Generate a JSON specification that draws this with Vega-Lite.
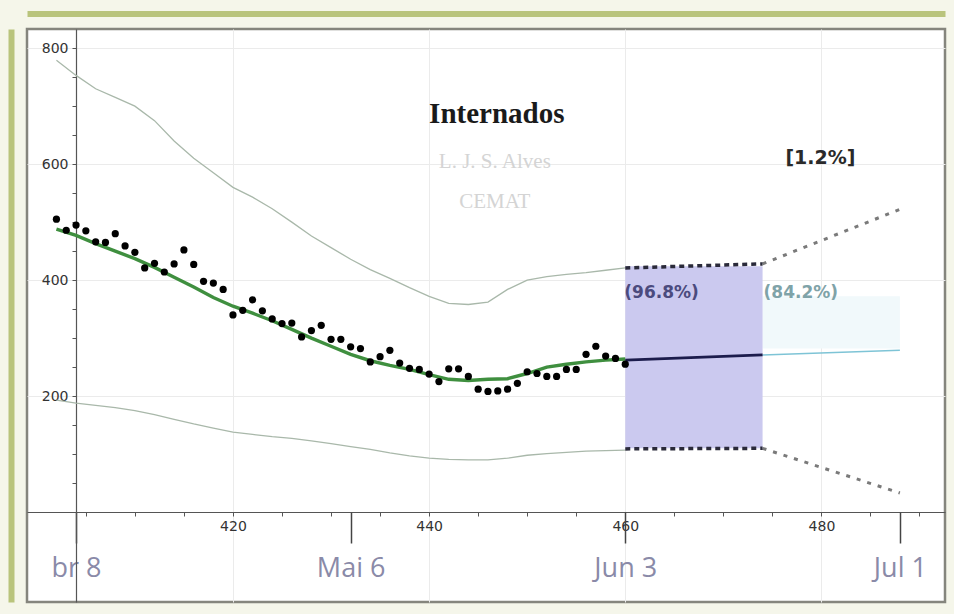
{
  "$schema": "https://vega.github.io/schema/vega-lite/v6.json",
  "width": 918,
  "height": 573,
  "autosize": {"type": "none"},
  "padding": {"left": 27, "top": 29, "right": 9, "bottom": 12},
  "background": "#f5f6ea",
  "config": {
    "view": {"fill": "#ffffff", "stroke": "#85857d", "strokeWidth": 2.5},
    "axis": {"title": null}
  },
  "resolve": {"axis": {"x": "independent", "y": "independent"}},
  "datasets": {
    "rects": [
      {"x1": 474, "x2": 488, "y1": 282, "y2": 372, "kind": "cyan"},
      {"x1": 460, "x2": 474, "y1": 110, "y2": 424, "kind": "ci"}
    ],
    "bands": [
      {"day": 402, "value": 779, "band": "upper"},
      {"day": 404, "value": 753, "band": "upper"},
      {"day": 406, "value": 730, "band": "upper"},
      {"day": 408, "value": 715, "band": "upper"},
      {"day": 410, "value": 700, "band": "upper"},
      {"day": 412, "value": 675, "band": "upper"},
      {"day": 414, "value": 640, "band": "upper"},
      {"day": 416, "value": 610, "band": "upper"},
      {"day": 418, "value": 585, "band": "upper"},
      {"day": 420, "value": 560, "band": "upper"},
      {"day": 422, "value": 543, "band": "upper"},
      {"day": 424, "value": 523, "band": "upper"},
      {"day": 426, "value": 500, "band": "upper"},
      {"day": 428, "value": 476, "band": "upper"},
      {"day": 430, "value": 456, "band": "upper"},
      {"day": 432, "value": 436, "band": "upper"},
      {"day": 434, "value": 418, "band": "upper"},
      {"day": 436, "value": 403, "band": "upper"},
      {"day": 438, "value": 387, "band": "upper"},
      {"day": 440, "value": 372, "band": "upper"},
      {"day": 442, "value": 360, "band": "upper"},
      {"day": 444, "value": 358, "band": "upper"},
      {"day": 446, "value": 362, "band": "upper"},
      {"day": 448, "value": 384, "band": "upper"},
      {"day": 450, "value": 400, "band": "upper"},
      {"day": 452, "value": 406, "band": "upper"},
      {"day": 454, "value": 410, "band": "upper"},
      {"day": 456, "value": 413, "band": "upper"},
      {"day": 458, "value": 417, "band": "upper"},
      {"day": 460, "value": 421, "band": "upper"},
      {"day": 402, "value": 193, "band": "lower"},
      {"day": 404, "value": 188, "band": "lower"},
      {"day": 406, "value": 184, "band": "lower"},
      {"day": 408, "value": 180, "band": "lower"},
      {"day": 410, "value": 175, "band": "lower"},
      {"day": 412, "value": 168, "band": "lower"},
      {"day": 414, "value": 160, "band": "lower"},
      {"day": 416, "value": 152, "band": "lower"},
      {"day": 418, "value": 145, "band": "lower"},
      {"day": 420, "value": 138, "band": "lower"},
      {"day": 422, "value": 134, "band": "lower"},
      {"day": 424, "value": 130, "band": "lower"},
      {"day": 426, "value": 127, "band": "lower"},
      {"day": 428, "value": 123, "band": "lower"},
      {"day": 430, "value": 118, "band": "lower"},
      {"day": 432, "value": 113, "band": "lower"},
      {"day": 434, "value": 108, "band": "lower"},
      {"day": 436, "value": 102, "band": "lower"},
      {"day": 438, "value": 97, "band": "lower"},
      {"day": 440, "value": 93, "band": "lower"},
      {"day": 442, "value": 91, "band": "lower"},
      {"day": 444, "value": 90, "band": "lower"},
      {"day": 446, "value": 90, "band": "lower"},
      {"day": 448, "value": 93, "band": "lower"},
      {"day": 450, "value": 98, "band": "lower"},
      {"day": 452, "value": 101, "band": "lower"},
      {"day": 454, "value": 103, "band": "lower"},
      {"day": 456, "value": 105, "band": "lower"},
      {"day": 458, "value": 106, "band": "lower"},
      {"day": 460, "value": 107, "band": "lower"}
    ],
    "fit": [
      {"day": 402, "value": 488}, {"day": 404, "value": 477}, {"day": 406, "value": 463},
      {"day": 408, "value": 450}, {"day": 410, "value": 437}, {"day": 412, "value": 422},
      {"day": 414, "value": 405}, {"day": 416, "value": 388}, {"day": 418, "value": 370},
      {"day": 420, "value": 355}, {"day": 422, "value": 343}, {"day": 424, "value": 330},
      {"day": 426, "value": 315}, {"day": 428, "value": 300}, {"day": 430, "value": 286},
      {"day": 432, "value": 272}, {"day": 434, "value": 261}, {"day": 436, "value": 253},
      {"day": 438, "value": 246}, {"day": 440, "value": 237}, {"day": 442, "value": 229},
      {"day": 444, "value": 227}, {"day": 446, "value": 229}, {"day": 448, "value": 230},
      {"day": 450, "value": 239}, {"day": 452, "value": 250}, {"day": 454, "value": 255},
      {"day": 456, "value": 259}, {"day": 458, "value": 262}, {"day": 460, "value": 264}
    ],
    "obs": [
      {"day": 402, "value": 505}, {"day": 403, "value": 486}, {"day": 404, "value": 495},
      {"day": 405, "value": 485}, {"day": 406, "value": 466}, {"day": 407, "value": 465},
      {"day": 408, "value": 480}, {"day": 409, "value": 459}, {"day": 410, "value": 448},
      {"day": 411, "value": 421}, {"day": 412, "value": 429}, {"day": 413, "value": 414},
      {"day": 414, "value": 428}, {"day": 415, "value": 452}, {"day": 416, "value": 427},
      {"day": 417, "value": 398}, {"day": 418, "value": 395}, {"day": 419, "value": 384},
      {"day": 420, "value": 340}, {"day": 421, "value": 348}, {"day": 422, "value": 366},
      {"day": 423, "value": 347}, {"day": 424, "value": 333}, {"day": 425, "value": 325},
      {"day": 426, "value": 326}, {"day": 427, "value": 302}, {"day": 428, "value": 313},
      {"day": 429, "value": 322}, {"day": 430, "value": 298}, {"day": 431, "value": 298},
      {"day": 432, "value": 285}, {"day": 433, "value": 282}, {"day": 434, "value": 259},
      {"day": 435, "value": 268}, {"day": 436, "value": 279}, {"day": 437, "value": 257},
      {"day": 438, "value": 248}, {"day": 439, "value": 246}, {"day": 440, "value": 238},
      {"day": 441, "value": 225}, {"day": 442, "value": 247}, {"day": 443, "value": 247},
      {"day": 444, "value": 234}, {"day": 445, "value": 212}, {"day": 446, "value": 208},
      {"day": 447, "value": 209}, {"day": 448, "value": 212}, {"day": 449, "value": 222},
      {"day": 450, "value": 242}, {"day": 451, "value": 239}, {"day": 452, "value": 234},
      {"day": 453, "value": 234}, {"day": 454, "value": 246}, {"day": 455, "value": 246},
      {"day": 456, "value": 272}, {"day": 457, "value": 286}, {"day": 458, "value": 269},
      {"day": 459, "value": 265}, {"day": 460, "value": 255}
    ],
    "forecast": [
      {"day": 460, "value": 262, "seg": "near"},
      {"day": 474, "value": 271, "seg": "near"},
      {"day": 474, "value": 271, "seg": "far"},
      {"day": 488, "value": 279, "seg": "far"}
    ],
    "dotted": [
      {"day": 460, "value": 421, "seg": "top"},
      {"day": 474, "value": 428, "seg": "top"},
      {"day": 460, "value": 109, "seg": "bottom"},
      {"day": 474, "value": 110, "seg": "bottom"},
      {"day": 474, "value": 428, "seg": "topExt"},
      {"day": 488, "value": 522, "seg": "topExt"},
      {"day": 474, "value": 110, "seg": "bottomExt"},
      {"day": 488, "value": 33, "seg": "bottomExt"}
    ]
  },
  "layer": [
    {
      "data": {"name": "rects"},
      "transform": [{"filter": "datum.kind == 'cyan'"}],
      "mark": {"type": "rect", "color": "#f1f9fb"},
      "encoding": {
        "x": {"field": "x1", "type": "quantitative", "scale": {"domain": [399.0, 492.6], "nice": false, "zero": false}, "axis": null},
        "x2": {"field": "x2"},
        "y": {"field": "y1", "type": "quantitative", "scale": {"domain": [-155, 833], "nice": false, "zero": false}, "axis": null},
        "y2": {"field": "y2"}
      }
    },
    {
      "data": {"name": "rects"},
      "transform": [{"filter": "datum.kind == 'ci'"}],
      "mark": {"type": "rect", "color": "#cbc9ef"},
      "encoding": {
        "x": {"field": "x1", "type": "quantitative", "axis": null},
        "x2": {"field": "x2"},
        "y": {"field": "y1", "type": "quantitative", "axis": null},
        "y2": {"field": "y2"}
      }
    },
    {
      "data": {"name": "bands"},
      "mark": {"type": "line", "color": "#a9b8aa", "strokeWidth": 1.3},
      "encoding": {
        "x": {"field": "day", "type": "quantitative",
          "axis": {
            "orient": "bottom", "offset": -90,
            "values": [405, 410, 415, 420, 425, 430, 435, 440, 445, 450, 455, 460, 465, 470, 475, 480, 485, 490],
            "labelExpr": "datum.value % 20 == 0 ? datum.label : ''",
            "labelOverlap": false,
            "tickSize": 4, "tickColor": "#555555", "domainColor": "#555555", "domainWidth": 1.2,
            "labelFont": "DejaVu Sans", "labelFontSize": 14, "labelColor": "#333333", "labelPadding": 3,
            "grid": true, "gridColor": "#ebebeb",
            "gridOpacity": {"condition": {"test": "datum.value % 20 == 0", "value": 1}, "value": 0}
          }
        },
        "y": {"field": "value", "type": "quantitative",
          "axis": {
            "orient": "left", "offset": -49,
            "values": [50, 100, 150, 200, 250, 300, 350, 400, 450, 500, 550, 600, 650, 700, 750, 800],
            "labelExpr": "datum.value % 200 == 0 ? datum.label : ''",
            "labelOverlap": false,
            "tickSize": 4, "tickColor": "#555555", "domainColor": "#555555", "domainWidth": 1.2,
            "labelFont": "DejaVu Sans", "labelFontSize": 14, "labelColor": "#333333", "labelPadding": 4,
            "grid": true, "gridColor": "#ebebeb",
            "gridOpacity": {"condition": {"test": "datum.value % 200 == 0", "value": 1}, "value": 0}
          }
        },
        "detail": {"field": "band"}
      }
    },
    {
      "data": {"name": "fit"},
      "mark": {"type": "line", "color": "#3f8f3f", "strokeWidth": 3.4},
      "encoding": {
        "x": {"field": "day", "type": "quantitative",
          "axis": {
            "orient": "bottom", "offset": -90,
            "values": [404, 432, 460, 488],
            "labelExpr": "datum.value == 404 ? 'br 8' : datum.value == 432 ? 'Mai 6' : datum.value == 460 ? 'Jun 3' : 'Jul 1'",
            "labelOverlap": false,
            "domain": false, "grid": false,
            "tickSize": 31, "tickWidth": 1.5, "tickColor": "#444444",
            "labelFont": "Open Sans", "labelFontSize": 27, "labelColor": "#8a8aa8", "labelPadding": 12
          }
        },
        "y": {"field": "value", "type": "quantitative", "axis": null}
      }
    },
    {
      "data": {"name": "forecast"},
      "transform": [{"filter": "datum.seg == 'far'"}],
      "mark": {"type": "line", "color": "#7ec4d6", "strokeWidth": 1.6},
      "encoding": {
        "x": {"field": "day", "type": "quantitative", "axis": null},
        "y": {"field": "value", "type": "quantitative", "axis": null}
      }
    },
    {
      "data": {"name": "forecast"},
      "transform": [{"filter": "datum.seg == 'near'"}],
      "mark": {"type": "line", "color": "#1c1c4c", "strokeWidth": 2.8},
      "encoding": {
        "x": {"field": "day", "type": "quantitative", "axis": null},
        "y": {"field": "value", "type": "quantitative", "axis": null}
      }
    },
    {
      "data": {"name": "dotted"},
      "transform": [{"filter": "datum.seg == 'topExt' || datum.seg == 'bottomExt'"}],
      "mark": {"type": "line", "color": "#7a7a7a", "strokeWidth": 3, "strokeDash": [4, 7], "strokeCap": "butt"},
      "encoding": {
        "x": {"field": "day", "type": "quantitative", "axis": null},
        "y": {"field": "value", "type": "quantitative", "axis": null},
        "detail": {"field": "seg"}
      }
    },
    {
      "data": {"name": "dotted"},
      "transform": [{"filter": "datum.seg == 'top' || datum.seg == 'bottom'"}],
      "mark": {"type": "line", "color": "#2a2a3a", "strokeWidth": 3.5, "strokeDash": [5, 4], "strokeCap": "butt"},
      "encoding": {
        "x": {"field": "day", "type": "quantitative", "axis": null},
        "y": {"field": "value", "type": "quantitative", "axis": null},
        "detail": {"field": "seg"}
      }
    },
    {
      "data": {"name": "obs"},
      "mark": {"type": "circle", "color": "#000000", "opacity": 1, "size": 52},
      "encoding": {
        "x": {"field": "day", "type": "quantitative",
          "axis": {"orient": "top", "offset": 15.5, "domainColor": "#b9c47c", "domainWidth": 6, "ticks": false, "labels": false, "grid": false}
        },
        "y": {"field": "value", "type": "quantitative",
          "axis": {"orient": "left", "offset": 16, "domainColor": "#b9c47c", "domainWidth": 6, "ticks": false, "labels": false, "grid": false}
        }
      }
    },
    {
      "data": {"values": [{"day": 446.9, "value": 686, "label": "Internados"}]},
      "mark": {"type": "text", "font": "Liberation Serif", "fontWeight": "bold", "fontSize": 29, "color": "#1a1a1a", "align": "center", "baseline": "middle"},
      "encoding": {
        "x": {"field": "day", "type": "quantitative", "axis": null},
        "y": {"field": "value", "type": "quantitative", "axis": null},
        "text": {"field": "label"}
      }
    },
    {
      "data": {"values": [{"day": 446.7, "value": 604, "label": "L. J. S. Alves"}, {"day": 446.7, "value": 535, "label": "CEMAT"}]},
      "mark": {"type": "text", "font": "Liberation Serif", "fontSize": 21, "color": "#d4d4d4", "align": "center", "baseline": "middle"},
      "encoding": {
        "x": {"field": "day", "type": "quantitative", "axis": null},
        "y": {"field": "value", "type": "quantitative", "axis": null},
        "text": {"field": "label"}
      }
    },
    {
      "data": {"values": [{"day": 479.9, "value": 611, "label": "[1.2%]"}]},
      "mark": {"type": "text", "font": "DejaVu Sans", "fontWeight": "bold", "fontSize": 19, "color": "#2a2a2a", "align": "center", "baseline": "middle"},
      "encoding": {
        "x": {"field": "day", "type": "quantitative", "axis": null},
        "y": {"field": "value", "type": "quantitative", "axis": null},
        "text": {"field": "label"}
      }
    },
    {
      "data": {"values": [{"day": 463.7, "value": 378, "label": "(96.8%)"}]},
      "mark": {"type": "text", "font": "DejaVu Sans", "fontWeight": "bold", "fontSize": 17, "color": "#4b4b7e", "align": "center", "baseline": "middle"},
      "encoding": {
        "x": {"field": "day", "type": "quantitative", "axis": null},
        "y": {"field": "value", "type": "quantitative", "axis": null},
        "text": {"field": "label"}
      }
    },
    {
      "data": {"values": [{"day": 477.9, "value": 378, "label": "(84.2%)"}]},
      "mark": {"type": "text", "font": "DejaVu Sans", "fontWeight": "bold", "fontSize": 17, "color": "#7fa3a8", "align": "center", "baseline": "middle"},
      "encoding": {
        "x": {"field": "day", "type": "quantitative", "axis": null},
        "y": {"field": "value", "type": "quantitative", "axis": null},
        "text": {"field": "label"}
      }
    }
  ]
}
